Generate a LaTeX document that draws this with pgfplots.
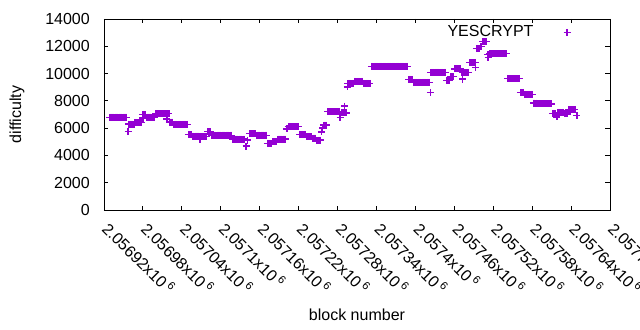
\documentclass[border=0pt]{standalone}
\usepackage{pgfplots}
\pgfplotsset{compat=1.18}
\usepackage{fontspec}
\setmainfont{Liberation Sans}
\definecolor{gpviolet}{HTML}{9400D3}
\begin{document}
\fontsize{16bp}{19bp}\selectfont
\begin{tikzpicture}
\path[use as bounding box] (-104bp,-120bp) rectangle (536bp,210bp);
\begin{axis}[
  at={(0,0)}, anchor=south west,
  scale only axis, width=506bp, height=191bp,
  xmin=0, xmax=780, ymin=0, ymax=14000,
  scaled y ticks=false, scaled x ticks=false,
  axis line style={line width=0.9bp},
  tick style={line width=0.9bp, black},
  tick align=inside, major tick length=4.5bp,
  xtick={0,60,...,780},
  xticklabels={2.05692x10\,\textsuperscript{6},2.05698x10\,\textsuperscript{6},2.05704x10\,\textsuperscript{6},2.0571x10\,\textsuperscript{6},2.05716x10\,\textsuperscript{6},2.05722x10\,\textsuperscript{6},2.05728x10\,\textsuperscript{6},2.05734x10\,\textsuperscript{6},2.0574x10\,\textsuperscript{6},2.05746x10\,\textsuperscript{6},2.05752x10\,\textsuperscript{6},2.05758x10\,\textsuperscript{6},2.05764x10\,\textsuperscript{6},2.0577x10\,\textsuperscript{6}},
  ytick={0,2000,...,14000},
  yticklabels={0,2000,4000,6000,8000,10000,12000,14000},
  xticklabel style={xshift=2bp, yshift=-15bp, rotate=-45, anchor=west, inner sep=0pt},
  yticklabel style={anchor=east, inner sep=0pt, xshift=-14bp},
  every axis x label/.style={at={(rel axis cs:0.5,0)}, yshift=-105bp, anchor=center},
  every axis y label/.style={at={(rel axis cs:0,0.5)}, xshift=-87bp, rotate=90, anchor=center},
  xlabel={block number},
  ylabel={difficulty},
  legend style={draw=none, fill=none, at={(rel axis cs:0.922,0.93)}, anchor=east, inner sep=0pt, outer sep=0pt, column sep=30bp, nodes={inner sep=0pt}},
  legend plot pos=right,
  legend cell align=right,
]
\addplot[only marks, mark=+, mark size=3.5bp, color=gpviolet, line width=1.4bp] coordinates {
(9,6800) (11,6800) (13,6800) (15,6800) (17,6800) (19,6800) (21,6800) (23,6800) (25,6800) (27,6800) (29,6800) (31,6800) (33,6800) (35,6800)
(37,5740)
(38,6300) (40,6300) (42,6300) (44,6300) (46,6300)
(48,6400) (50,6400) (52,6400) (54,6400) (56,6400) (58,6400)
(60,6740)
(60,7010) (62,7010) (64,7010)
(66,6800) (68,6800) (70,6800) (72,6800) (74,6800) (76,6800) (78,6800)
(80,7060) (82,7060) (84,7060) (86,7060) (88,7060) (90,7060) (92,7060) (94,7060) (96,7060) (98,7060) (100,7060)
(97,6670)
(102,6450) (104,6450) (106,6450)
(108,6280) (110,6280) (112,6280) (114,6280) (116,6280) (118,6280) (120,6280) (122,6280) (124,6280) (126,6280) (128,6280)
(130,5530) (132,5530) (134,5530)
(136,5420) (138,5420) (140,5420) (142,5420) (144,5420) (146,5420)
(148,5200)
(148,5400) (150,5400) (152,5400) (154,5400) (156,5400) (158,5400)
(160,5740) (162,5740) (164,5740)
(166,5480) (168,5480) (170,5480) (172,5480) (174,5480) (176,5480) (178,5480) (180,5480) (182,5480) (184,5480) (186,5480) (188,5480) (190,5480) (192,5480) (194,5480) (196,5480)
(198,5200) (200,5200) (202,5200) (204,5200) (206,5200) (208,5200) (210,5200) (212,5200) (214,5200) (216,5200)
(219,4690) (221,5130)
(224,5590) (226,5590) (228,5590) (230,5590) (232,5590) (234,5590)
(236,5480) (238,5480) (240,5480) (242,5480) (244,5480) (246,5480) (248,5480) (250,5480)
(252,4870) (254,4870) (256,4870) (258,4870)
(260,4990) (262,4990) (264,4990) (266,4990)
(268,5200) (270,5200) (272,5200) (274,5200) (276,5200) (278,5200) (280,5200)
(281,5940) (283,5940)
(284,6120) (286,6120) (288,6120) (290,6120) (292,6120) (294,6120) (296,6120) (298,6120) (300,6120)
(302,5550) (304,5550) (306,5550) (308,5550) (310,5550)
(312,5370) (314,5370) (316,5370) (318,5370) (320,5370)
(322,5260) (324,5260) (326,5260)
(328,5130) (330,5130) (332,5130) (334,5130)
(335,5720) (337,6010)
(339,6230) (341,6230) (343,6230)
(345,7200) (347,7200) (349,7200) (351,7200) (353,7200) (355,7200) (357,7200) (359,7200) (361,7200) (363,7200)
(364,6770)
(366,7110) (368,7110) (370,7110) (372,7110) (374,7110)
(371,7620)
(375,9020)
(376,9290) (378,9290) (380,9290) (382,9290) (384,9290)
(386,9430) (388,9430) (390,9430) (392,9430) (394,9430) (396,9430) (398,9430)
(400,9290) (402,9290) (404,9290) (406,9290) (408,9290) (410,9290)
(412,10530) (414,10530) (416,10530) (418,10530) (420,10530) (422,10530) (424,10530) (426,10530) (428,10530) (430,10530)
(432,10530) (434,10530) (436,10530) (438,10530) (440,10530) (442,10530) (444,10530) (446,10530) (448,10530) (450,10530)
(452,10530) (454,10530) (456,10530) (458,10530) (460,10530) (462,10530) (464,10530) (466,10530) (468,10530)
(470,9580) (472,9580) (474,9580) (476,9580)
(478,9360) (480,9360) (482,9360) (484,9360) (486,9360) (488,9360) (490,9360) (492,9360) (494,9360) (496,9360) (498,9360) (500,9360) (502,9360)
(503,8630)
(504,10090) (506,10090) (508,10090) (510,10090) (512,10090) (514,10090) (516,10090) (518,10090) (520,10090) (522,10090) (524,10090) (526,10090)
(528,9510) (530,9510) (532,9510)
(534,9770) (536,9770) (538,9770)
(540,10340) (542,10340) (544,10340) (546,10340) (548,10340) (550,10340)
(553,9600)
(552,10060) (554,10060) (556,10060) (558,10060) (560,10060) (562,10060)
(564,10810) (566,10810) (568,10810) (570,10810) (572,10810)
(573,10430)
(574,11820) (576,11820) (578,11820)
(580,11970) (582,11970)
(584,12340) (586,12340) (588,12340) (590,12340)
(592,11190) (591,11380) (593,11380)
(594,11460) (596,11460) (598,11460) (600,11460) (602,11460) (604,11460) (606,11460) (608,11460) (610,11460) (612,11460) (614,11460) (616,11460) (618,11460) (620,11460)
(622,9620) (624,9620) (626,9620) (628,9620) (630,9620) (632,9620) (634,9620) (636,9620) (638,9620) (640,9620)
(642,8630) (644,8630) (646,8630)
(648,8480) (650,8480) (652,8480) (654,8480) (656,8480) (658,8480) (660,8480)
(662,7830) (664,7830) (666,7830)
(668,7770) (670,7770) (672,7770) (674,7770) (676,7770) (678,7770) (680,7770) (682,7770) (684,7770) (686,7770) (688,7770) (690,7770)
(692,7090) (694,7090) (696,7090)
(698,6820)
(700,7150) (702,7150) (704,7150) (706,7150) (708,7150)
(710,7040) (712,7040) (714,7040)
(716,7350) (718,7350) (720,7350) (722,7350) (724,7350) (726,7350)
(729,6910)
};
\addlegendentry{YESCRYPT}
\end{axis}
\end{tikzpicture}
\end{document}
